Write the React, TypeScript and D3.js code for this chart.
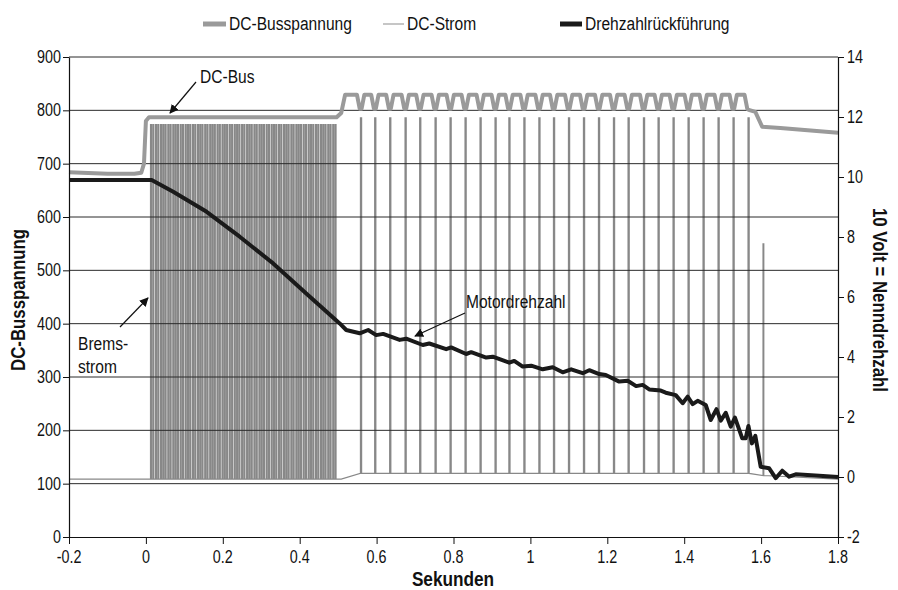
import React, { useEffect, useRef } from 'react';
import * as d3 from 'd3';

// Zeitachse (Sekunden) und Achsen-Ticks
const xTicks = [-0.2, 0, 0.2, 0.4, 0.6, 0.8, 1, 1.2, 1.4, 1.6, 1.8];
const leftTicks = [0, 100, 200, 300, 400, 500, 600, 700, 800, 900];
const rightTicks = [-2, 0, 2, 4, 6, 8, 10, 12, 14];

// DC-Busspannung (V), linke Achse
const busStart = [
  [-0.2, 684], [-0.1, 681], [-0.03, 681], [-0.012, 683], [-0.005, 700],
  [0.0, 780], [0.008, 787], [0.496, 787], [0.508, 795], [0.518, 829],
];
const busEnd = [
  [1.568, 801], [1.585, 797], [1.603, 769], [1.65, 767], [1.8, 758],
];
const busTop = 829;
const busDip = 803;

// DC-Strom (rechte Achse, Volt) – Bremspulse
const densePulses = [
  0.012, 0.018, 0.025, 0.031, 0.038, 0.044, 0.050, 0.057, 0.063, 0.070,
  0.076, 0.082, 0.089, 0.095, 0.102, 0.108, 0.114, 0.121, 0.127, 0.134,
  0.140, 0.146, 0.153, 0.159, 0.166, 0.172, 0.178, 0.185, 0.191, 0.198,
  0.204, 0.210, 0.217, 0.223, 0.230, 0.236, 0.242, 0.249, 0.255, 0.262,
  0.268, 0.274, 0.281, 0.287, 0.294, 0.300, 0.306, 0.313, 0.319, 0.326,
  0.332, 0.338, 0.345, 0.351, 0.358, 0.364, 0.370, 0.377, 0.383, 0.390,
  0.396, 0.402, 0.409, 0.415, 0.422, 0.428, 0.434, 0.441, 0.447, 0.454,
  0.460, 0.466, 0.473, 0.479, 0.486, 0.492,
];
const sparsePulses = [
  0.558, 0.595, 0.634, 0.674, 0.712, 0.752, 0.791, 0.830, 0.869, 0.908,
  0.944, 0.983, 1.022, 1.060, 1.099, 1.138, 1.177, 1.216, 1.254, 1.294,
  1.332, 1.371, 1.410, 1.449, 1.488, 1.527, 1.566,
];
const lastPulse = [1.605, 7.77];
const denseBase = -0.07;
const denseTop = 11.75;
const sparseBase = 0.12;
const sparseTop = 11.97;
const endBase = -0.07;

// Drehzahlrückführung (V), rechte Achse
const speed = [
  [-0.2, 9.9], [0.015, 9.9], [0.071, 9.51], [0.158, 8.84], [0.244, 8.01],
  [0.331, 7.12], [0.417, 6.12], [0.504, 5.12], [0.521, 4.9], [0.556, 4.79],
  [0.578, 4.9], [0.599, 4.73], [0.617, 4.77], [0.66, 4.57], [0.677, 4.61],
  [0.72, 4.4], [0.737, 4.45], [0.781, 4.26], [0.794, 4.32], [0.833, 4.1],
  [0.846, 4.16], [0.885, 3.98], [0.902, 4.01], [0.945, 3.81], [0.958, 3.87],
  [0.98, 3.68], [1.002, 3.71], [1.032, 3.59], [1.058, 3.66], [1.084, 3.49],
  [1.106, 3.59], [1.136, 3.46], [1.153, 3.56], [1.179, 3.43], [1.196, 3.4],
  [1.231, 3.18], [1.253, 3.21], [1.275, 3.03], [1.292, 3.07], [1.309, 2.92],
  [1.339, 2.88], [1.352, 2.81], [1.378, 2.73], [1.396, 2.46], [1.409, 2.68],
  [1.422, 2.43], [1.435, 2.54], [1.456, 2.4], [1.469, 1.9], [1.484, 2.26],
  [1.495, 1.88], [1.508, 2.14], [1.521, 1.68], [1.532, 1.98], [1.551, 1.29],
  [1.56, 1.29], [1.567, 1.7], [1.576, 1.12], [1.585, 1.37], [1.599, 0.34],
  [1.621, 0.29], [1.638, -0.04], [1.655, 0.21], [1.673, 0.01], [1.69, 0.09],
  [1.751, 0.04], [1.8, 0.0],
];

const legendItems = [
  { label: 'DC-Busspannung', x1: 203, x2: 226, color: '#9a9a9a', width: 5 },
  { label: 'DC-Strom', x1: 383, x2: 404, color: '#a0a0a0', width: 1.2 },
  { label: 'Drehzahlrückführung', x1: 560, x2: 582, color: '#1a1a1a', width: 5 },
];

// schmale Schrift: Liberation Sans horizontal gestaucht
const FONT = '"Liberation Sans", Arial, sans-serif';
const SX = 0.82;

export default function App() {
  const ref = useRef<SVGSVGElement>(null);

  useEffect(() => {
    const svg = d3.select(ref.current);
    svg.selectAll('*').remove();

    const x = d3.scaleLinear().domain([-0.2, 1.8]).range([69, 838]);
    const yL = d3.scaleLinear().domain([0, 900]).range([537, 57]);
    const yR = d3.scaleLinear().domain([-2, 14]).range([537, 57]);

    const txt = (tx: number, ty: number, s: string, size: number,
      anchor = 'start', bold = false, rot = 0) =>
      svg.append('text')
        .attr('transform', `translate(${tx},${ty}) rotate(${rot}) scale(${SX},1)`)
        .attr('text-anchor', anchor)
        .attr('font-family', FONT)
        .attr('font-size', size)
        .attr('font-weight', bold ? 'bold' : 'normal')
        .attr('fill', '#111')
        .text(s);

    const defs = svg.append('defs');
    defs.append('marker')
      .attr('id', 'arrow')
      .attr('viewBox', '0 0 10 10')
      .attr('refX', 9).attr('refY', 5)
      .attr('markerWidth', 9).attr('markerHeight', 9)
      .attr('markerUnits', 'userSpaceOnUse')
      .attr('orient', 'auto')
      .append('path')
      .attr('d', 'M0,0 L10,5 L0,10 z')
      .attr('fill', '#111');

    // DC-Strom
    const cur: [number, number][] = [[-0.2, denseBase]];
    const pw = 0.0025;
    densePulses.forEach(t => {
      cur.push([t, denseBase], [t, denseTop], [t + pw, denseTop], [t + pw, denseBase]);
    });
    cur.push([0.508, denseBase]);
    sparsePulses.forEach(t => {
      cur.push([t, sparseBase], [t, sparseTop], [t + 0.003, sparseTop], [t + 0.003, sparseBase]);
    });
    cur.push([lastPulse[0], 0.05], [lastPulse[0], lastPulse[1]], [lastPulse[0] + 0.002, lastPulse[1]],
      [lastPulse[0] + 0.002, 0.05], [1.8, endBase]);

    const lineR = d3.line<[number, number]>().x(d => x(d[0])).y(d => yR(d[1]));
    const lineL = d3.line<[number, number]>().x(d => x(d[0])).y(d => yL(d[1]));

    svg.append('path')
      .attr('d', lineR(cur))
      .attr('fill', 'none')
      .attr('stroke', '#888888')
      .attr('stroke-width', 1.2);

    // Gitterlinien
    svg.selectAll('.grid')
      .data(leftTicks.filter(d => d > 0))
      .enter()
      .append('line')
      .attr('x1', 69).attr('x2', 838)
      .attr('y1', d => yL(d)).attr('y2', d => yL(d))
      .attr('stroke', '#2b2b2b')
      .attr('stroke-width', 1);

    // DC-Busspannung
    const bus: [number, number][] = [...busStart as [number, number][]];
    sparsePulses.forEach((t, i) => {
      bus.push([t - 0.009, busTop], [t - 0.002, busDip]);
      if (i < sparsePulses.length - 1) bus.push([t + 0.003, busDip], [t + 0.01, busTop]);
    });
    bus.push(...busEnd as [number, number][]);
    svg.append('path')
      .attr('d', lineL(bus))
      .attr('fill', 'none')
      .attr('stroke', '#9a9a9a')
      .attr('stroke-width', 4)
      .attr('stroke-linejoin', 'round');

    // Drehzahl
    svg.append('path')
      .attr('d', lineR(speed as [number, number][]))
      .attr('fill', 'none')
      .attr('stroke', '#1a1a1a')
      .attr('stroke-width', 4)
      .attr('stroke-linejoin', 'round');

    // Achsen (Linien und Ticks)
    const gx = svg.append('g').attr('transform', 'translate(0,537)')
      .call(d3.axisBottom(x).tickValues(xTicks).tickFormat(() => '').tickSize(7).tickSizeOuter(0));
    const gl = svg.append('g').attr('transform', 'translate(69,0)')
      .call(d3.axisLeft(yL).tickValues(leftTicks).tickFormat(() => '').tickSize(6).tickSizeOuter(0));
    const gr = svg.append('g').attr('transform', 'translate(838,0)')
      .call(d3.axisRight(yR).tickValues(rightTicks).tickFormat(() => '').tickSize(6).tickSizeOuter(0));
    [gx, gl, gr].forEach(g => {
      g.selectAll('line').attr('stroke', '#111');
      g.select('.domain').attr('stroke', '#111').attr('stroke-width', 1.2);
    });

    const fmt = (d: number) => String(+d.toFixed(1));
    xTicks.forEach(d => txt(x(d), 563, fmt(d), 17.5, 'middle'));
    leftTicks.forEach(d => txt(61, yL(d) + 6, fmt(d), 17.5, 'end'));
    rightTicks.forEach(d => txt(847, yR(d) + 6, fmt(d), 17.5, 'start'));

    // Achsentitel
    txt(453, 586, 'Sekunden', 21, 'middle', true);
    txt(25, 300, 'DC-Busspannung', 20.5, 'middle', true, -90);
    txt(873, 300, '10 Volt = Nenndrehzahl', 20.5, 'middle', true, 90);

    // Legende
    legendItems.forEach(it => {
      svg.append('line')
        .attr('x1', it.x1).attr('x2', it.x2).attr('y1', 24).attr('y2', 24)
        .attr('stroke', it.color).attr('stroke-width', it.width);
      txt(it.x2 + 3, 30, it.label, 19);
    });

    // Beschriftungen
    const arrow = (x1: number, y1: number, x2: number, y2: number) => {
      svg.append('line')
        .attr('x1', x1).attr('y1', y1).attr('x2', x2).attr('y2', y2)
        .attr('stroke', '#111').attr('stroke-width', 1.2)
        .attr('marker-end', 'url(#arrow)');
    };
    txt(200, 83, 'DC-Bus', 19);
    arrow(196, 82, 170, 113);
    txt(78, 350, 'Brems-', 19);
    txt(78, 373, 'strom', 19);
    arrow(120, 327, 148, 298);
    txt(466, 308, 'Motordrehzahl', 19);
    arrow(465, 313, 415, 336);
  }, []);

  return (
    <svg ref={ref} width={898} height={590}
      style={{ position: 'absolute', left: 0, top: 0, background: '#fff' }} />
  );
}
